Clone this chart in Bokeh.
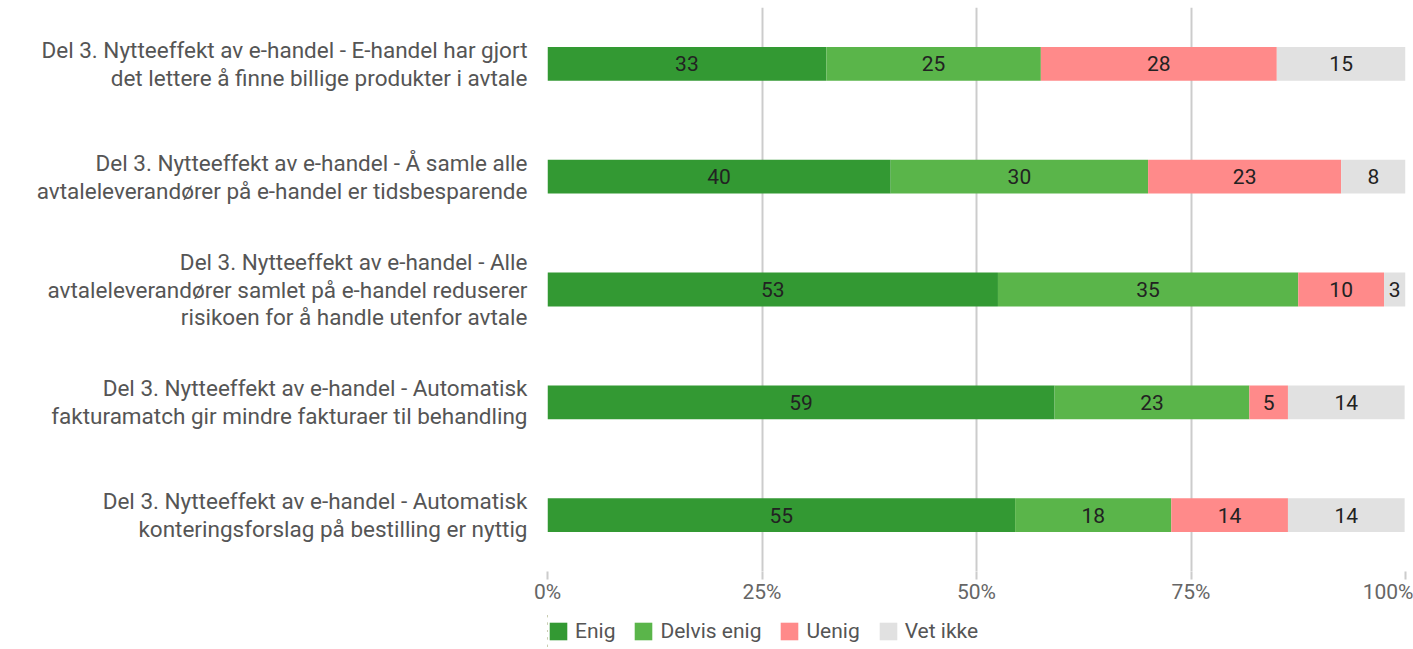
import math
from bokeh.plotting import figure
from bokeh.layouts import column
from bokeh.models import (ColumnDataSource, FactorRange, Range1d, Legend, LegendItem,
                          FixedTicker, CustomJSTickFormatter)
from bokeh.embed import file_html
from bokeh.resources import INLINE
from bokeh.core.properties import value

questions = [
    "Del 3. Nytteeffekt av e-handel - E-handel har gjort\ndet lettere å finne billige produkter i avtale",
    "Del 3. Nytteeffekt av e-handel - Å samle alle\navtaleleverandører på e-handel er tidsbesparende",
    "Del 3. Nytteeffekt av e-handel - Alle\navtaleleverandører samlet på e-handel reduserer\nrisikoen for å handle utenfor avtale",
    "Del 3. Nytteeffekt av e-handel - Automatisk\nfakturamatch gir mindre fakturaer til behandling",
    "Del 3. Nytteeffekt av e-handel - Automatisk\nkonteringsforslag på bestilling er nyttig",
]
series = ["Enig", "Delvis enig", "Uenig", "Vet ikke"]
enig = [32.5, 40.0, 52.5, 59.1, 54.5]
delvis_enig = [25.0, 30.0, 35.0, 22.7, 18.2]
uenig = [27.5, 22.5, 10.0, 4.5, 13.6]
vet_ikke = [15.0, 7.5, 2.5, 13.6, 13.6]
x_ticks = [0, 25, 50, 75, 100]
colors = ["#339933", "#5ab54a", "#ff8a8a", "#e1e1e1"]

values = [enig, delvis_enig, uenig, vet_ikke]
data = {"q": questions}
for name, vals in zip(series, values):
    data[name] = vals
source = ColumnDataSource(data)

p = figure(frame_width=858, frame_height=564, output_backend="svg", toolbar_location=None,
           y_range=FactorRange(factors=list(reversed(questions))),
           x_range=Range1d(0, 100),
           min_border_left=547, min_border_right=8, min_border_top=7, min_border_bottom=41)
p.outline_line_color = None

renderers = p.hbar_stack(series, y="q", height=0.3, color=colors, source=source,
                         line_color=None)

# segment labels
lx, ly, lt = [], [], []
for i, q in enumerate(questions):
    left = 0.0
    for vals in values:
        v = vals[i]
        lx.append(left + v / 2)
        ly.append(q)
        lt.append(str(int(math.floor(v + 0.5))))
        left += v
p.text(x=lx, y=ly, text=lt, text_align="center", text_baseline="middle",
       text_font=value("Roboto"), text_font_size="21px", text_color="#222222")

# axes
p.xaxis.ticker = FixedTicker(ticks=x_ticks)
p.xaxis.formatter = CustomJSTickFormatter(code="return tick + '%';")
p.xaxis.axis_line_color = None
p.xaxis.major_tick_in = 0
p.xaxis.major_tick_out = 8
p.xaxis.major_tick_line_color = "#cccccc"
p.xaxis.major_tick_line_width = 2
p.xaxis.minor_tick_line_color = None
p.xaxis.major_label_text_font = "Roboto"
p.xaxis.major_label_text_font_size = "21px"
p.xaxis.major_label_text_color = "#666666"
p.xaxis.major_label_standoff = 0

p.yaxis.axis_line_color = None
p.yaxis.major_tick_line_color = None
p.yaxis.minor_tick_line_color = None
p.yaxis.major_label_text_font = "Roboto"
p.yaxis.major_label_text_font_size = "22.5px"
p.yaxis.major_label_text_color = "#555555"
p.yaxis.major_label_text_line_height = 1.07
p.yaxis.major_label_standoff = 14

p.xgrid.ticker = FixedTicker(ticks=x_ticks)
p.xgrid.grid_line_color = "#cccccc"
p.xgrid.grid_line_width = 2
p.ygrid.grid_line_color = None

# legend strip (separate figure, bars kept out of its visible range)
pl = figure(width=1413, height=37, output_backend="svg", toolbar_location=None,
            y_range=FactorRange(factors=list(reversed(questions))),
            x_range=Range1d(200, 300), x_axis_location=None, y_axis_location=None,
            min_border_left=0, min_border_right=0, min_border_top=0, min_border_bottom=0)
pl.outline_line_color = None
pl.grid.grid_line_color = None
leg_renderers = pl.hbar_stack(series, y="q", height=0.3, color=colors, source=source,
                              line_color=None)

legend = Legend(items=[LegendItem(label=s, renderers=[r]) for s, r in zip(series, leg_renderers)],
                orientation="horizontal", location=(0, 6))
legend.label_text_font = "Roboto"
legend.label_text_font_size = "21px"
legend.label_text_color = "#555555"
legend.label_standoff = 6
legend.glyph_width = 22
legend.glyph_height = 22
legend.label_height = 22
legend.spacing = 17
legend.padding = 0
legend.margin = 0
legend.border_line_color = None
legend.background_fill_alpha = 0
pl.add_layout(legend, "center")

layout = column(p, pl, spacing=0)
open("out.html", "w").write(file_html(layout, INLINE))
